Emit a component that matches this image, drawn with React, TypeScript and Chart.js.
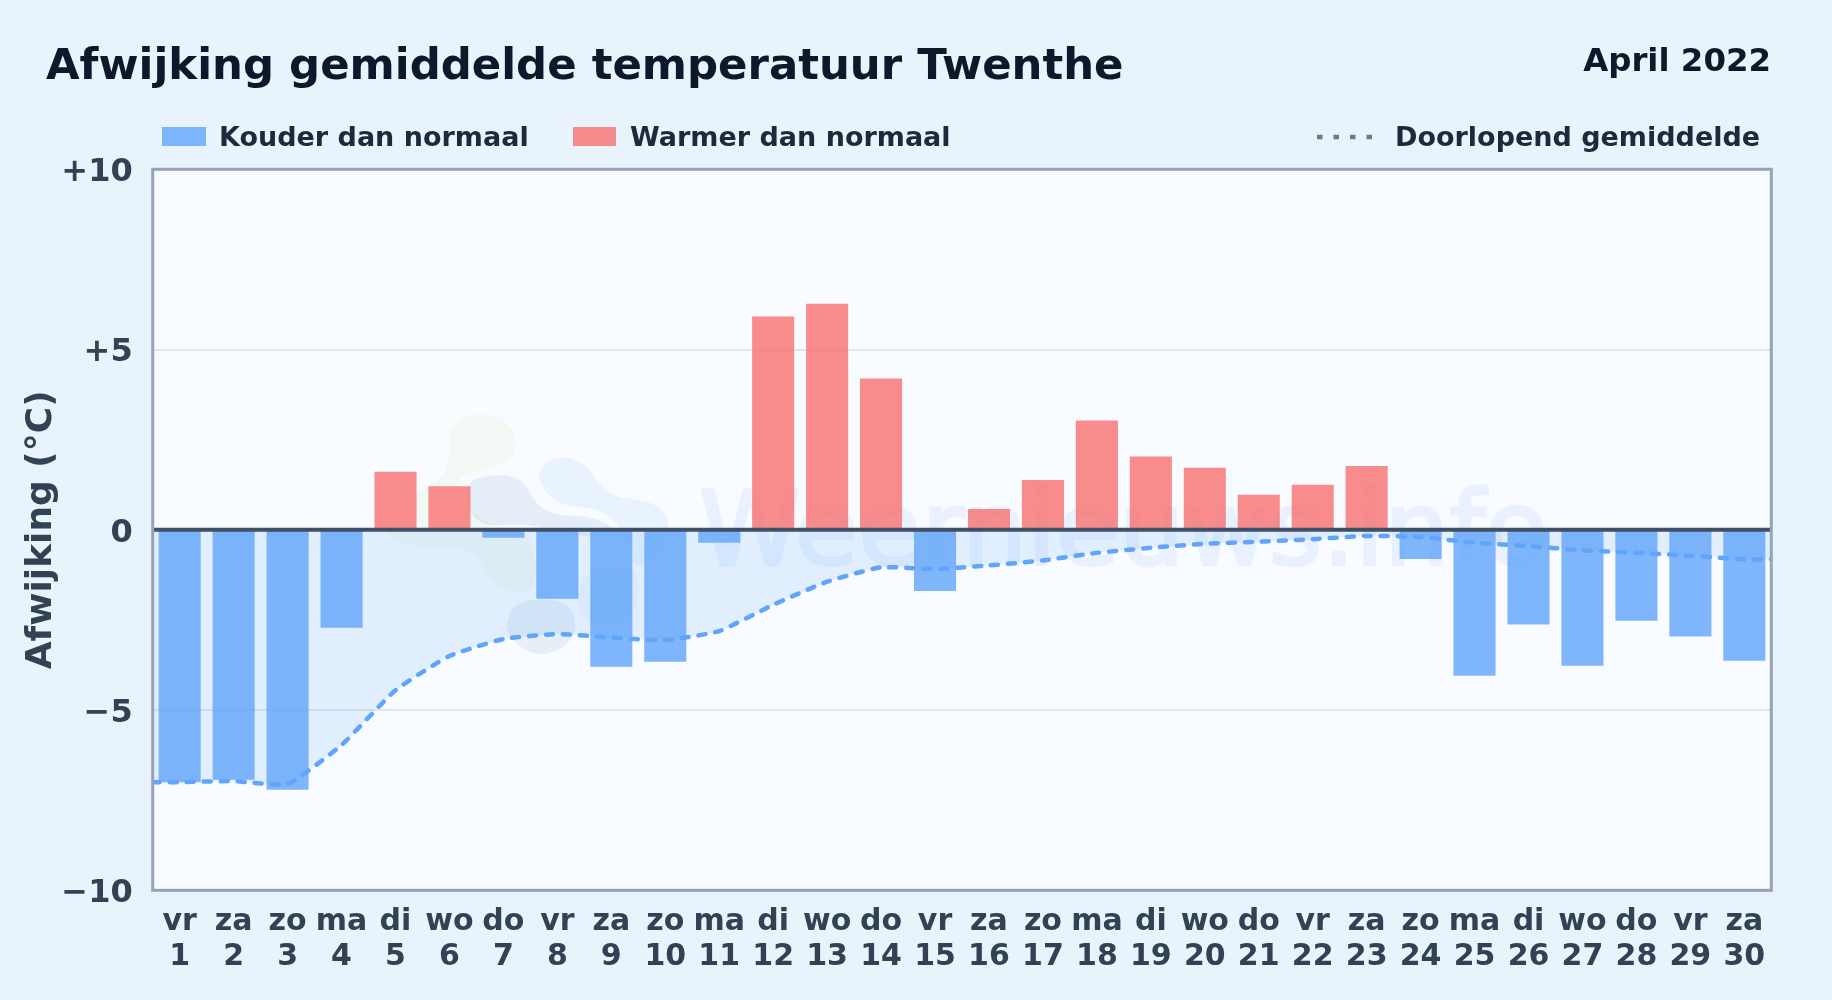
import React, { useEffect, useRef } from "react";
import { Chart, registerables } from "chart.js";

Chart.register(...registerables);

const weekdays = ["vr","za","zo","ma","di","wo","do","vr","za","zo","ma","di","wo","do","vr","za","zo","ma","di","wo","do","vr","za","zo","ma","di","wo","do","vr","za"];
const days = ["1","2","3","4","5","6","7","8","9","10","11","12","13","14","15","16","17","18","19","20","21","22","23","24","25","26","27","28","29","30"];
const deviations = [-7.0,-6.93,-7.21,-2.72,1.61,1.21,-0.22,-1.91,-3.8,-3.66,-0.36,5.92,6.27,4.2,-1.7,0.58,1.38,3.03,2.03,1.72,0.97,1.25,1.77,-0.81,-4.05,-2.63,-3.77,-2.52,-2.96,-3.63];
const runningMean = [-7.0,-6.97,-7.05,-5.97,-4.45,-3.5,-3.03,-2.89,-2.99,-3.06,-2.81,-2.08,-1.44,-1.04,-1.09,-0.99,-0.85,-0.64,-0.5,-0.39,-0.33,-0.26,-0.17,-0.2,-0.36,-0.45,-0.57,-0.64,-0.72,-0.82];
const yTicks = [-10,-5,0,5,10];

const TITLE = "Afwijking gemiddelde temperatuur Twenthe";
const PERIOD = "April 2022";
const LEGEND_COLD = "Kouder dan normaal";
const LEGEND_WARM = "Warmer dan normaal";
const LEGEND_MEAN = "Doorlopend gemiddelde";
const Y_TITLE = "Afwijking (°C)";
const WATERMARK = "Weernieuws.info";

const FONT = "'DejaVu Sans', sans-serif";
const COLD = "rgba(96,165,250,0.8)";
const WARM = "rgba(248,113,113,0.8)";

const LOGO_YELLOW = [[265,110],[300,70],[370,55],[440,75],[470,130],[465,180],[410,215],[340,230],[285,255],[330,340],[400,395],[510,420],[530,500],[520,590],[440,590],[390,555],[350,480],[280,450],[150,455],[75,420],[65,380],[110,330],[190,285],[255,240],[272,180]];
const LOGO_GREY = [[320,260],[400,237],[470,245],[505,280],[530,330],[590,362],[680,362],[750,390],[780,430],[620,420],[540,395],[470,385],[390,395],[340,370],[320,320]];
const LOGO_BLUE = [[530,240],[560,195],[620,185],[680,210],[715,265],[770,310],[860,315],[915,350],[930,400],[920,470],[860,500],[820,520],[790,400],[720,340],[620,335],[560,300]];
const LOGO_LOWER = [[650,580],[690,530],[760,510],[830,520],[840,600],[810,680],[720,700],[660,660]];
const LOGO_DARK = [[440,680],[460,630],[530,610],[620,620],[650,680],[640,730],[590,770],[530,782],[470,750],[440,710]];

function blob(ctx: CanvasRenderingContext2D, color: string, pts: number[][]) {
  const px = (p: number[]) => [360 + p[0] / 3, 395 + p[1] / 3];
  const n = pts.length;
  const mid = (a: number[], b: number[]) => [(a[0] + b[0]) / 2, (a[1] + b[1]) / 2];
  ctx.fillStyle = color;
  ctx.beginPath();
  const s = mid(px(pts[n - 1]), px(pts[0]));
  ctx.moveTo(s[0], s[1]);
  for (let i = 0; i < n; i++) {
    const c = px(pts[i]);
    const m = mid(c, px(pts[(i + 1) % n]));
    ctx.quadraticCurveTo(c[0], c[1], m[0], m[1]);
  }
  ctx.closePath();
  ctx.fill();
}

const decorPlugin = {
  id: "decor",
  beforeDraw(chart: any) {
    const { ctx, width, height, chartArea: a } = chart;
    ctx.save();
    ctx.fillStyle = "#e8f3fc";
    ctx.fillRect(0, 0, width, height);
    ctx.fillStyle = "#f8fbff";
    ctx.fillRect(a.left, a.top, a.right - a.left, a.bottom - a.top);

    // title block
    ctx.textBaseline = "alphabetic";
    ctx.textAlign = "left";
    ctx.fillStyle = "#0f172a";
    ctx.font = `bold 43.4px ${FONT}`;
    ctx.fillText(TITLE, 46, 79);
    ctx.textAlign = "right";
    ctx.font = `bold 32.4px ${FONT}`;
    ctx.fillText(PERIOD, 1771, 71);

    // legend
    ctx.textAlign = "left";
    ctx.textBaseline = "middle";
    ctx.font = `bold 27px ${FONT}`;
    ctx.fillStyle = COLD;
    ctx.fillRect(162, 127, 44, 19);
    ctx.fillStyle = WARM;
    ctx.fillRect(573, 127, 43, 19);
    ctx.fillStyle = "#1e293b";
    ctx.fillText(LEGEND_COLD, 219, 138.5);
    ctx.fillText(LEGEND_WARM, 630, 138.5);
    ctx.fillText(LEGEND_MEAN, 1395, 138.5);
    ctx.strokeStyle = "#6b7a8f";
    ctx.lineWidth = 4.5;
    ctx.setLineDash([5.5, 11]);
    ctx.beginPath();
    ctx.moveTo(1317, 137);
    ctx.lineTo(1374, 137);
    ctx.stroke();
    ctx.setLineDash([]);
    ctx.restore();
  },
  beforeDatasetsDraw(chart: any) {
    const { ctx } = chart;
    ctx.save();
    // faint logo
    blob(ctx, "rgba(190,225,130,0.09)", LOGO_YELLOW);
    blob(ctx, "rgba(100,150,200,0.12)", LOGO_GREY);
    blob(ctx, "rgba(96,180,250,0.10)", LOGO_BLUE);
    blob(ctx, "rgba(96,165,250,0.05)", LOGO_LOWER);
    blob(ctx, "rgba(110,145,180,0.12)", LOGO_DARK);
    // faint wordmark
    const off = document.createElement("canvas");
    off.width = 1000;
    off.height = 200;
    const o = off.getContext("2d") as CanvasRenderingContext2D;
    o.fillStyle = "#3b82f6";
    o.strokeStyle = "#3b82f6";
    o.lineWidth = 3;
    o.lineJoin = "round";
    o.font = `103px ${FONT}`;
    o.textBaseline = "alphabetic";
    o.fillText(WATERMARK, 20, 130);
    o.strokeText(WATERMARK, 20, 130);
    ctx.globalAlpha = 0.075;
    ctx.drawImage(off, 679, 435);
    ctx.restore();
  },
  afterDatasetsDraw(chart: any) {
    const { ctx, chartArea: a, scales } = chart;
    ctx.save();
    const y0 = scales.y.getPixelForValue(0);
    ctx.strokeStyle = "#3f4f66";
    ctx.lineWidth = 4;
    ctx.beginPath();
    ctx.moveTo(a.left, y0);
    ctx.lineTo(a.right, y0);
    ctx.stroke();
    ctx.strokeStyle = "#94a3b8";
    ctx.lineWidth = 3;
    ctx.strokeRect(a.left, a.top, a.right - a.left, a.bottom - a.top);
    ctx.restore();
  },
};

export default function App() {
  const ref = useRef<HTMLCanvasElement | null>(null);
  useEffect(() => {
    const meanPoints = [
      { x: -0.5, y: runningMean[0] },
      ...runningMean.map((v, i) => ({ x: i, y: v })),
      { x: runningMean.length - 0.5, y: runningMean[runningMean.length - 1] },
    ];
    const chart = new Chart(ref.current as HTMLCanvasElement, {
      type: "bar",
      plugins: [decorPlugin],
      data: {
        labels: weekdays.map((d, i) => [d, days[i]]),
        datasets: [
          {
            type: "line",
            label: LEGEND_MEAN,
            xAxisID: "xLine",
            order: 0,
            data: meanPoints,
            borderColor: "#60a5fa",
            borderWidth: 4.5,
            borderDash: [7, 10],
            borderCapStyle: "round",
            pointRadius: 0,
            tension: 0.15,
            fill: { value: 0 },
            backgroundColor: "rgba(96,165,250,0.15)",
          },
          {
            type: "bar",
            label: LEGEND_COLD + " / " + LEGEND_WARM,
            xAxisID: "x",
            order: 1,
            grouped: false,
            data: deviations,
            backgroundColor: deviations.map((v) => (v < 0 ? COLD : WARM)),
            borderWidth: 0,
            barPercentage: 0.78,
            categoryPercentage: 1,
          },
        ],
      } as any,
      options: {
        animation: false,
        responsive: false,
        devicePixelRatio: 1,
        layout: { padding: { top: 169.3, right: 60.7, left: 0, bottom: 0 } },
        plugins: {
          legend: { display: false },
          title: { display: false },
          tooltip: { enabled: false },
        },
        scales: {
          x: {
            type: "category",
            position: "bottom",
            afterFit(s: any) { s.height = 109.7; },
            grid: { display: false, drawTicks: false },
            border: { display: false },
            ticks: {
              autoSkip: false,
              maxRotation: 0,
              minRotation: 0,
              padding: 15,
              color: "#334155",
              font: { family: FONT, size: 30, weight: "bold", lineHeight: 1.15 },
            },
          },
          xLine: {
            type: "linear",
            display: false,
            offset: false,
            min: -0.5,
            max: days.length - 0.5,
          },
          y: {
            min: yTicks[0],
            max: yTicks[yTicks.length - 1],
            afterFit(s: any) { s.width = 152.7; },
            afterBuildTicks(s: any) { s.ticks = yTicks.map((value) => ({ value })); },
            grid: {
              drawTicks: false,
              lineWidth: 2,
              color: (c: any) => (Math.abs(c.tick.value) === 5 ? "#dfe7ec" : "rgba(0,0,0,0)"),
            },
            border: { display: false },
            title: {
              display: true,
              text: Y_TITLE,
              color: "#334155",
              font: { family: FONT, size: 36, weight: "bold" },
              padding: { top: 20, bottom: 0 },
            },
            ticks: {
              padding: 20,
              labelOffset: 3.5,
              color: "#334155",
              font: { family: FONT, size: 32, weight: "bold" },
              callback: (v: any) => (v > 0 ? `+${v}` : v < 0 ? `\u2212${Math.abs(v)}` : "0"),
            },
          },
        },
      } as any,
    });
    return () => chart.destroy();
  }, []);
  return (
    <div style={{ position: "fixed", left: 0, top: 0, width: 1832, height: 1000, overflow: "hidden" }}>
      <canvas ref={ref} width={1832} height={1000} style={{ display: "block", width: 1832, height: 1000 }} />
    </div>
  );
}
